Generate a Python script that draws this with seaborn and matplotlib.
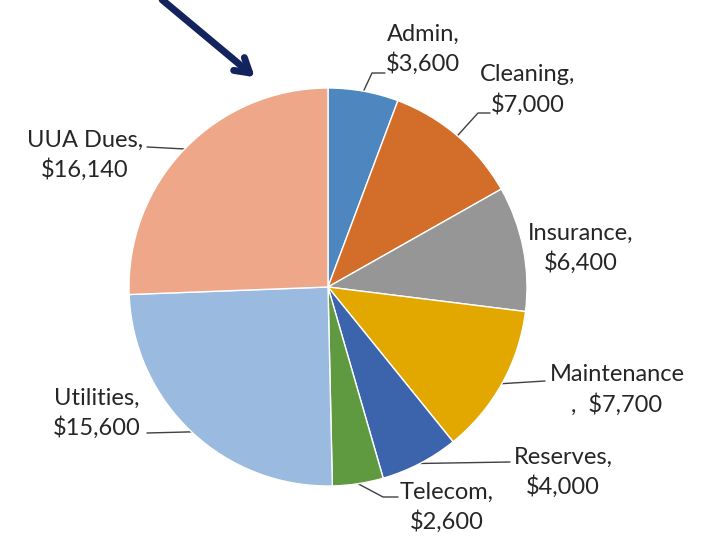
import numpy as np
import matplotlib
matplotlib.use("Agg")
import matplotlib.pyplot as plt
import seaborn as sns

categories = ["Admin", "Cleaning", "Insurance", "Maintenance", "Reserves", "Telecom", "Utilities", "UUA Dues"]
values = [3600, 7000, 6400, 7700, 4000, 2600, 15600, 16140]
label_texts = ["Admin,\n$3,600", "Cleaning,\n$7,000", "Insurance,\n$6,400", "Maintenance\n,  $7,700",
               "Reserves,\n$4,000", "Telecom,\n$2,600", "Utilities,\n$15,600", "UUA Dues,\n$16,140"]
colors = ["#4E86C0", "#D36E2A", "#969696", "#E2A800", "#3C64AD", "#5F9A41", "#9ABAE0", "#EFA78A"]

sns.set_style("white")
plt.rcParams["font.family"] = ["Lato", "DejaVu Sans"]

W, H = 711, 547
fig = plt.figure(figsize=(W / 100, H / 100), dpi=100)
ax = fig.add_axes([0, 0, 1, 1])

cx, cy, r = 328, H - 287, 199
wedges, _ = ax.pie(values, colors=colors, startangle=90, counterclock=False,
                   center=(cx, cy), radius=r, frame=True,
                   wedgeprops=dict(edgecolor="white", linewidth=1))
ax.set_xlim(0, W)
ax.set_ylim(0, H)
ax.set_aspect("equal")
ax.axis("off")

# label centres (pixel coords, top-left origin) and leader line points after the wedge edge
label_pos = [(423, 49), (528, 90), (581, 248), (617, 390), (563, 472), (447, 507), (97, 413), (85, 155)]
leaders = [
    [(372, 73), (385, 73)],
    [(478, 113), (490, 113)],
    None,
    [(545, 381)],
    [(510, 462)],
    [(383, 497), (398, 497)],
    [(147, 433)],
    [(147, 147)],
]

for w, txt, (lx, ly), pts in zip(wedges, label_texts, label_pos, leaders):
    ax.text(lx, H - ly, txt, ha="center", va="center", fontsize=17, color="#262626",
            linespacing=1.4)
    if pts is None:
        continue
    mid = np.deg2rad((w.theta1 + w.theta2) / 2)
    sx, sy = cx + r * np.cos(mid), cy + r * np.sin(mid)
    xs = [sx] + [p[0] for p in pts]
    ys = [sy] + [H - p[1] for p in pts]
    ax.plot(xs, ys, color="#404040", lw=1, zorder=0.5)

ax.annotate("", xy=(257, H - 79), xytext=(160, H + 2),
            arrowprops=dict(arrowstyle="->,head_length=1.0,head_width=0.6",
                            color="#13235E", lw=5))

fig.savefig("out.png", dpi=100)
